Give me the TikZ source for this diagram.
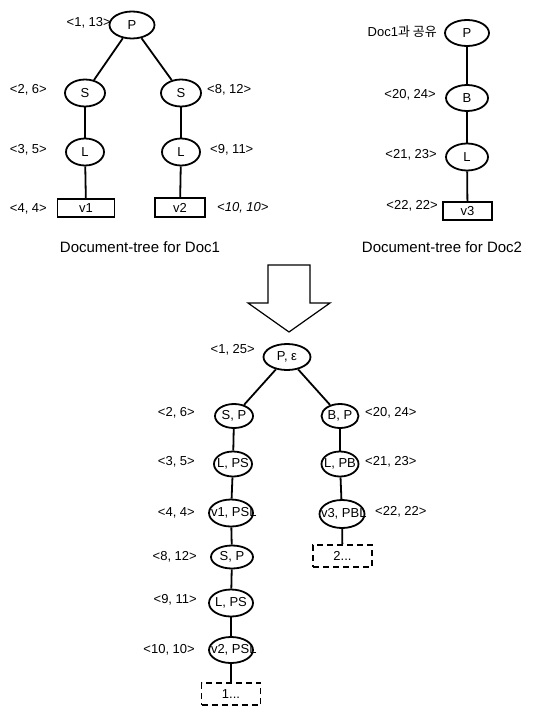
\documentclass[tikz,border=0pt]{standalone}
\usepackage{fontspec}
\setmainfont{Liberation Sans}
\newfontfamily\krfont{Noto Sans CJK KR}
\usetikzlibrary{shapes.geometric}
\newcommand{\zbox}[1]{\makebox[0pt]{#1}}
\newcommand{\lbox}[2]{\makebox[0pt][l]{\kern#1 #2}}
\tikzset{
  ell/.style={ellipse, draw, line width=1.8pt, inner sep=0pt, font=\fontsize{13}{13}\selectfont},
  vbox/.style={rectangle, draw, line width=1.4pt, inner sep=0pt, minimum height=18pt, font=\fontsize{13}{13}\selectfont},
  dbox/.style={rectangle, draw, line width=1.8pt, dash pattern=on 6pt off 4pt, inner sep=0pt, minimum width=59pt, minimum height=22pt, font=\fontsize{13}{13}\selectfont},
  lab/.style={inner sep=0pt, font=\fontsize{13}{13}\selectfont},
  ttl/.style={inner sep=0pt, font=\fontsize{15}{15}\selectfont},
  conn/.style={line width=1.8pt},
  barrow/.style={line width=1.2pt, fill=white}
}
\begin{document}
\begin{tikzpicture}[x=1pt,y=-1pt]
\useasboundingbox (0,0) rectangle (541,706);
% Doc1 tree
\node[ell, minimum width=45pt, minimum height=27pt] (P1) at (132,25) {P};
\node[ell, minimum width=40pt, minimum height=27pt] (S1a) at (85,93) {S};
\node[ell, minimum width=40pt, minimum height=27pt] (S1b) at (181,93) {S};
\node[ell, minimum width=38pt, minimum height=27pt] (L1a) at (85,152) {L};
\node[ell, minimum width=38pt, minimum height=27pt] (L1b) at (181,152) {L};
\node[vbox, minimum width=57pt] (V1) at (86,208) {v1};
\node[vbox, minimum width=50pt, minimum height=19pt] (V2) at (180,207.5) {v2};
\draw[conn] (P1) -- (S1a);
\draw[conn] (P1) -- (S1b);
\draw[conn] (S1a) -- (L1a);
\draw[conn] (S1b) -- (L1b);
\draw[conn] (L1a) -- (V1);
\draw[conn] (L1b) -- (V2);
\node[lab, anchor=east] (l1) at (111,23) {<1, 13>};
\node[lab, anchor=east] (l2) at (47,90) {<2, 6>};
\node[lab, anchor=west] (l3) at (207,90) {<8, 12>};
\node[lab, anchor=east] (l4) at (47,150) {<3, 5>};
\node[lab, anchor=west] (l5) at (210,150) {<9, 11>};
\node[lab, anchor=east] (l6) at (47,209) {<4, 4>};
\node[lab, anchor=west] (l7) at (217,208) {\itshape <10, 10>};
\node[ttl] (t1) at (140,247) {Document-tree for Doc1};
% Doc2 tree
\node[ell, minimum width=44pt, minimum height=26pt] (P2) at (467,33) {P};
\node[ell, minimum width=42pt, minimum height=26pt] (B2) at (467,98) {B};
\node[ell, minimum width=42pt, minimum height=27pt] (L2) at (467,157) {L};
\node[vbox, minimum width=49pt] (V3) at (467.5,211) {v3};
\draw[conn] (P2) -- (B2);
\draw[conn] (B2) -- (L2);
\draw[conn] (L2) -- (V3);
\node[lab, anchor=east] (m1) at (437,32) {Doc1{\krfont 과 공유}};
\node[lab, anchor=east] (m2) at (436,95) {<20, 24>};
\node[lab, anchor=east] (m3) at (437,155) {<21, 23>};
\node[lab, anchor=east] (m4) at (438,206) {<22, 22>};
\node[ttl] (t2) at (442,247) {Document-tree for Doc2};
% block arrow
\draw[barrow] (268,265) -- (310,265) -- (310,303) -- (330,303) -- (289,332) -- (248,303) -- (268,303) -- cycle;
% merged tree
\node[ell, minimum width=47pt, minimum height=26pt] (Pe) at (287,357) {\zbox{P, ε}};
\node[ell, minimum width=38pt, minimum height=24pt] (SP) at (234,416) {\zbox{S, P}};
\node[ell, minimum width=37pt, minimum height=24pt] (BP) at (340,416) {\zbox{B, P}};
\node[ell, minimum width=38pt, minimum height=25pt] (LPS) at (233,464) {\zbox{L, PS}};
\node[ell, minimum width=37pt, minimum height=25pt] (LPB) at (340,464) {\zbox{L, PB}};
\node[ell, minimum width=44pt, minimum height=27pt] (V1n) at (231,513) {\lbox{-20pt}{v1, PSL}};
\node[ell, minimum width=42pt, minimum height=23pt] (SP2) at (232,557) {\zbox{S, P}};
\node[ell, minimum width=44pt, minimum height=27pt] (LPS2) at (231,603) {\zbox{L, PS}};
\node[ell, minimum width=44pt, minimum height=26pt] (V2n) at (231,650) {\lbox{-20pt}{v2, PSL}};
\node[ell, minimum width=45pt, minimum height=28pt] (V3n) at (342,514) {\lbox{-21pt}{v3, PBL}};
\node[dbox] (D1) at (231,694) {1...};
\node[dbox] (D2) at (342.5,556) {2...};
\draw[conn] (Pe) -- (SP);
\draw[conn] (Pe) -- (BP);
\draw[conn] (SP) -- (LPS);
\draw[conn] (LPS) -- (V1n);
\draw[conn] (V1n) -- (SP2);
\draw[conn] (SP2) -- (LPS2);
\draw[conn] (LPS2) -- (V2n);
\draw[conn] (V2n) -- (D1);
\draw[conn] (BP) -- (LPB);
\draw[conn] (LPB) -- (V3n);
\draw[conn] (V3n) -- (D2);
\node[lab, anchor=east] (n1) at (255,350) {<1, 25>};
\node[lab, anchor=east] (n2) at (195,413) {<2, 6>};
\node[lab, anchor=west] (n3) at (365,413) {<20, 24>};
\node[lab, anchor=east] (n4) at (195,462) {<3, 5>};
\node[lab, anchor=west] (n5) at (365,462) {<21, 23>};
\node[lab, anchor=east] (n6) at (195,513) {<4, 4>};
\node[lab, anchor=west] (n7) at (375,512) {<22, 22>};
\node[lab, anchor=east] (n8) at (197,557) {<8, 12>};
\node[lab, anchor=east] (n9) at (197,600) {<9, 11>};
\node[lab, anchor=east] (n10) at (195,650) {<10, 10>};
\end{tikzpicture}
\end{document}
